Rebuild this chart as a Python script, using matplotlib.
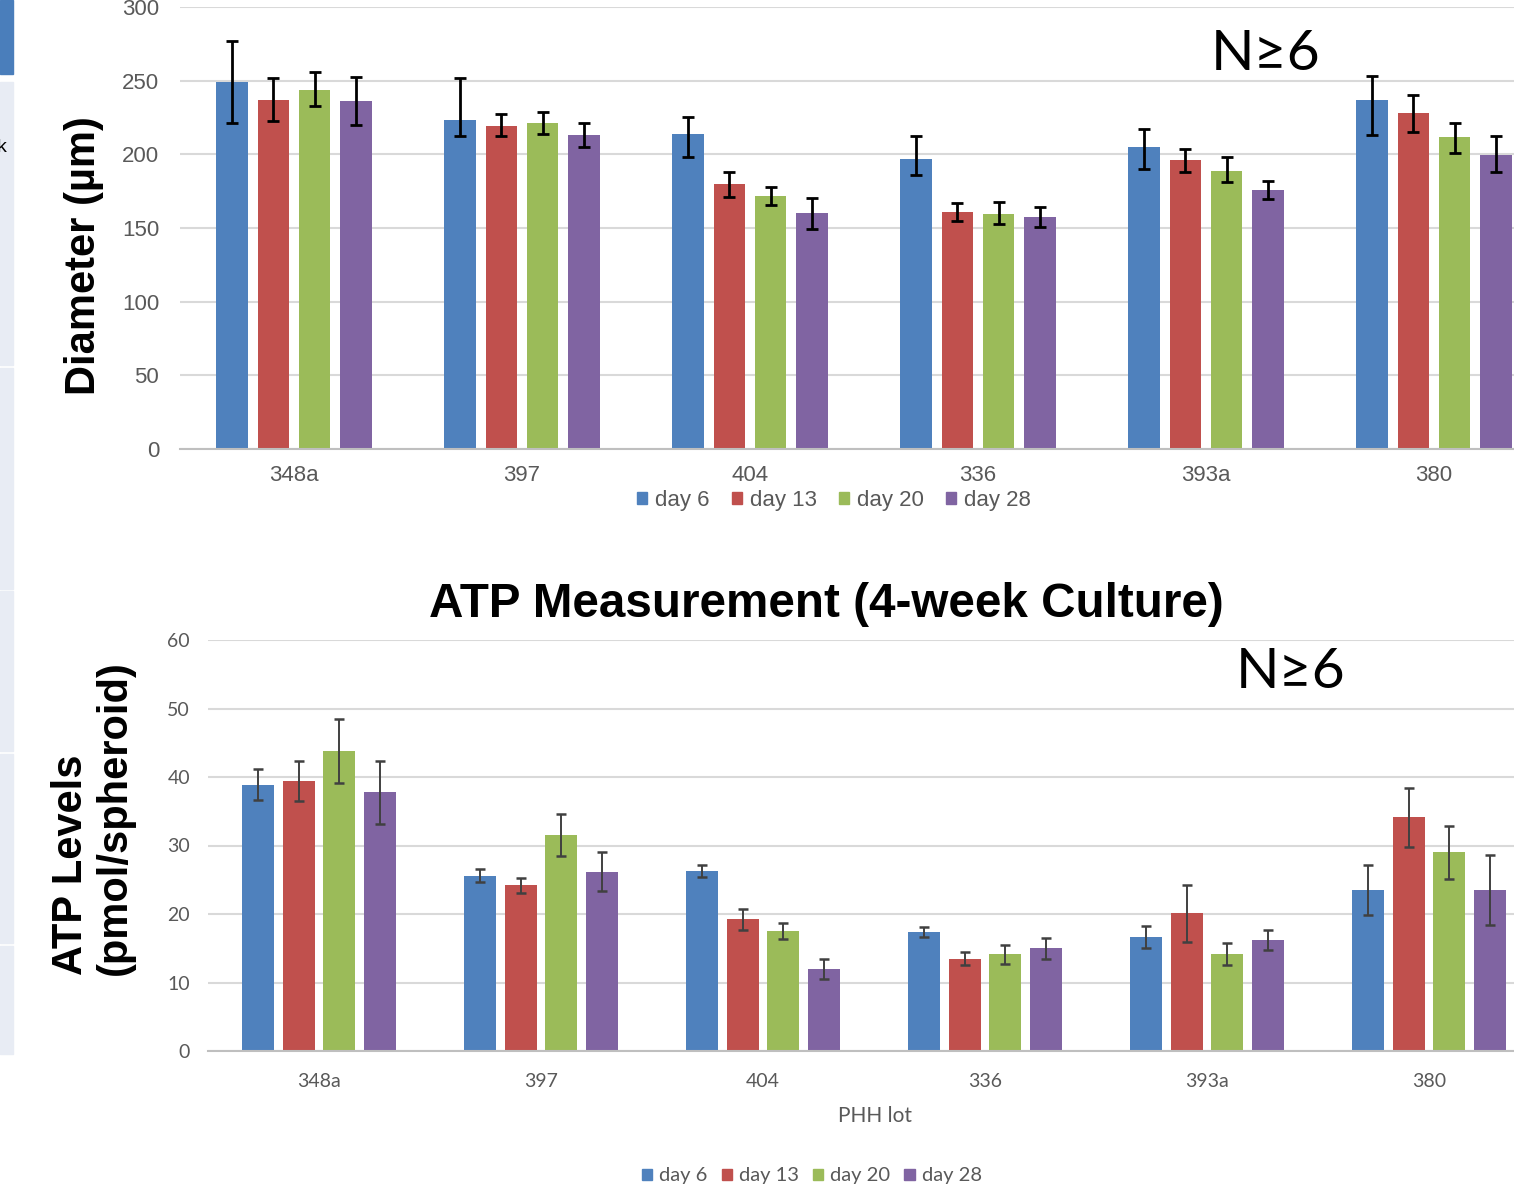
import matplotlib
matplotlib.use("Agg")
import matplotlib.pyplot as plt
import numpy as np
from matplotlib.patches import Rectangle, Patch

# ---------------- data ----------------
lots = ["348a", "397", "404", "336", "393a", "380"]
days = ["day 6", "day 13", "day 20", "day 28"]
colors = ["#4F81BD", "#C0504D", "#9BBB59", "#8064A2"]

# Diameter (µm), with upper / lower error extents
diam_day6 = [249, 223, 213.5, 197, 205, 237]
diam_day6_plus = [28, 28.5, 12, 15.5, 12, 16]
diam_day6_minus = [27.5, 10.5, 15, 11, 15, 24]
diam_day13 = [237, 219.5, 180, 161, 196, 228]
diam_day13_plus = [14.5, 8, 8, 6, 7.5, 12.5]
diam_day13_minus = [14.5, 7, 9, 6, 8, 13]
diam_day20 = [244, 221.5, 171.5, 159.5, 189, 211.5]
diam_day20_plus = [12, 7.5, 6.5, 8, 9, 10]
diam_day20_minus = [11.5, 8, 6, 6.5, 8, 10.5]
diam_day28 = [236, 213, 160.5, 157.5, 175.5, 199.5]
diam_day28_plus = [16.5, 8, 10, 7, 6.5, 13]
diam_day28_minus = [16, 8, 11, 6.5, 5.5, 11.5]

# ATP (pmol/spheroid), symmetric errors
atp_day6 = [38.9, 25.6, 26.3, 17.4, 16.7, 23.5]
atp_day6_err = [2.3, 1.0, 0.9, 0.7, 1.6, 3.6]
atp_day13 = [39.4, 24.2, 19.2, 13.5, 20.1, 34.1]
atp_day13_err = [2.9, 1.1, 1.6, 1.0, 4.2, 4.3]
atp_day20 = [43.8, 31.5, 17.5, 14.1, 14.2, 29.0]
atp_day20_err = [4.7, 3.1, 1.2, 1.4, 1.6, 3.9]
atp_day28 = [37.8, 26.2, 12.0, 15.0, 16.2, 23.5]
atp_day28_err = [4.6, 2.8, 1.5, 1.5, 1.4, 5.1]

diam_yticks = [0, 50, 100, 150, 200, 250, 300]
atp_yticks = [0, 10, 20, 30, 40, 50, 60]

# ---------------- figure ----------------
W, H = 1514, 1200
fig = plt.figure(figsize=(W / 100, H / 100), dpi=100)

def fx(px):
    return px / W

def fy(py):
    return 1 - py / H

# left sidebar artifacts (screenshot remnants)
fig.patches.append(Rectangle((0, fy(74)), fx(13), 74 / H, transform=fig.transFigure,
                             color="#4A7EBB", zorder=0))
for y0, y1 in [(82, 365), (368, 589), (591, 751), (754, 943), (946, 1054)]:
    fig.patches.append(Rectangle((0, fy(y1)), fx(13), (y1 - y0) / H,
                                 transform=fig.transFigure, color="#E8ECF4", zorder=0))
fig.text(-0.002, fy(148), "k", fontsize=14, family="Liberation Sans", va="center", ha="left")

x = np.arange(len(lots))
grid_c = "#D9D9D9"

# ---------------- top chart ----------------
ax1 = fig.add_axes([fx(180), fy(449), 1 - fx(180), (449 - 7) / H])
step1, w1 = 0.18, 0.14
top_vals = [diam_day6, diam_day13, diam_day20, diam_day28]
top_plus = [diam_day6_plus, diam_day13_plus, diam_day20_plus, diam_day28_plus]
top_minus = [diam_day6_minus, diam_day13_minus, diam_day20_minus, diam_day28_minus]
for i in range(4):
    pos = x + (i - 1.5) * step1
    ax1.bar(pos, top_vals[i], width=w1, color=colors[i], zorder=2)
    ax1.errorbar(pos, top_vals[i], yerr=[top_minus[i], top_plus[i]], fmt="none",
                 ecolor="black", elinewidth=2, capsize=4.5, capthick=2, zorder=3)
ax1.set_xlim(-0.5, -0.5 + (W - 180) / 228)
ax1.set_ylim(0, 300)
ax1.set_yticks(diam_yticks)
ax1.set_xticks(x)
ax1.set_xticklabels(lots)
ax1.yaxis.grid(True, color=grid_c, lw=1.5, zorder=0)
ax1.set_axisbelow(True)
for s in ["top", "right", "left"]:
    ax1.spines[s].set_visible(False)
ax1.spines["bottom"].set_color("#BFBFBF")
ax1.spines["bottom"].set_linewidth(1.5)
ax1.tick_params(axis="both", length=0, labelsize=16, labelcolor="#595959")
ax1.tick_params(axis="y", pad=15)
ax1.tick_params(axis="x", pad=11.5)
for lab in ax1.get_xticklabels() + ax1.get_yticklabels():
    lab.set_family("Liberation Sans")

fig.text(fx(84), fy(256), "Diameter (µm)", rotation=90, ha="center", va="center",
         fontsize=30, fontweight="bold", family="Liberation Sans")

handles = [Patch(color=c) for c in colors]
leg1 = fig.legend(handles, days, loc="center", bbox_to_anchor=(fx(834), fy(500)), ncol=4,
                  frameon=False, prop={"family": "Liberation Sans", "size": 16},
                  handlelength=0.45, handleheight=0.45, handletextpad=0.35,
                  columnspacing=1.0, borderaxespad=0, borderpad=0)
for t in leg1.get_texts():
    t.set_color("#595959")

fig.text(fx(1266), fy(70), "N≥6", ha="center", va="baseline", fontsize=41,
         family=["Lato", "DejaVu Sans"])

# ---------------- bottom chart ----------------
ax2 = fig.add_axes([fx(208), fy(1051), 1 - fx(208), (1051 - 640) / H])
step2, w2 = 0.183, 0.144
bot_vals = [atp_day6, atp_day13, atp_day20, atp_day28]
bot_errs = [atp_day6_err, atp_day13_err, atp_day20_err, atp_day28_err]
for i in range(4):
    pos = x + (i - 1.5) * step2
    ax2.bar(pos, bot_vals[i], width=w2, color=colors[i], zorder=2)
    ax2.errorbar(pos, bot_vals[i], yerr=bot_errs[i], fmt="none", ecolor="#404040",
                 elinewidth=1.4, capsize=3.5, capthick=1.8, zorder=3)
ax2.set_xlim(-0.5, -0.5 + (W - 208) / 222)
ax2.set_ylim(0, 60)
ax2.set_yticks(atp_yticks)
ax2.set_xticks(x)
ax2.set_xticklabels(lots)
ax2.yaxis.grid(True, color=grid_c, lw=1.5, zorder=0)
ax2.set_axisbelow(True)
for s in ["top", "right", "left"]:
    ax2.spines[s].set_visible(False)
ax2.spines["bottom"].set_color("#BFBFBF")
ax2.spines["bottom"].set_linewidth(1.5)
ax2.tick_params(axis="both", length=0, labelsize=14, labelcolor="#595959")
ax2.tick_params(axis="y", pad=13)
ax2.tick_params(axis="x", pad=15.5)
for lab in ax2.get_xticklabels() + ax2.get_yticklabels():
    lab.set_family("Lato")

fig.text(fx(826), fy(617), "ATP Measurement (4-week Culture)", ha="center", va="baseline",
         fontsize=34.3, fontweight="bold", family="Liberation Sans")
fig.text(fx(93), fy(975), "ATP Levels\n(pmol/spheroid)", rotation=90, ha="center",
         va="bottom", multialignment="left", fontsize=30, fontweight="bold",
         family="Liberation Sans", linespacing=1.15)
fig.text(fx(875), fy(1116), "PHH lot", ha="center", va="center", fontsize=15,
         family="Lato", color="#595959")

leg2 = fig.legend(handles, days, loc="center", bbox_to_anchor=(fx(812), fy(1176)), ncol=4,
                  frameon=False, prop={"family": "Lato", "size": 14.5},
                  handlelength=0.5, handleheight=0.5, handletextpad=0.35,
                  columnspacing=0.7, borderaxespad=0, borderpad=0)
for t in leg2.get_texts():
    t.set_color("#595959")

fig.text(fx(1291), fy(688), "N≥6", ha="center", va="baseline", fontsize=41,
         family=["Lato", "DejaVu Sans"])

fig.savefig("out.png", dpi=100)
